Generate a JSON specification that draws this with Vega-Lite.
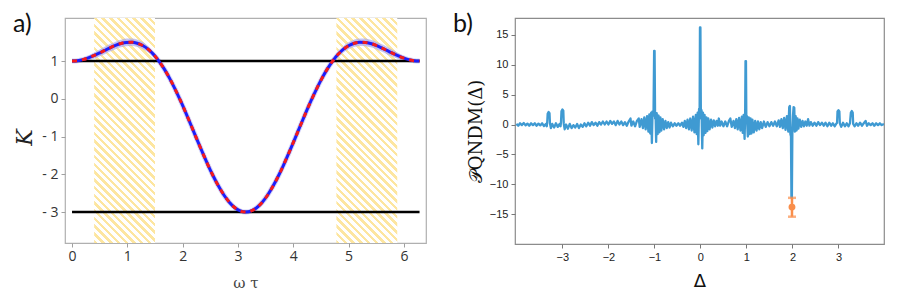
{
 "$schema": "https://vega.github.io/schema/vega-lite/v6.json",
 "background": "white",
 "padding": {"left": 12, "top": 11, "right": 5, "bottom": 0},
 "bounds": "flush",
 "spacing": 89,
 "config": {"axis": {"labelOverlap": false, "labelSeparation": 0, "labelBound": false}},
 "datasets": {
  "bands": [{"x": 0.40, "x2": 1.50}, {"x": 4.78, "x2": 5.88}],
  "levels": [{"x": 0, "x2": 6.2832, "k": 1}, {"x": 0, "x2": 6.2832, "k": -3}],
  "curve": [
   {"x":0,"k":1},{"x":0.0982,"k":1.0096},{"x":0.1963,"k":1.0377},{"x":0.2945,"k":1.0824},{"x":0.3927,"k":1.1407},{"x":0.4909,"k":1.2083},{"x":0.589,"k":1.2803},{"x":0.6872,"k":1.3509},{"x":0.7854,"k":1.4142},{"x":0.8836,"k":1.4639},{"x":0.9817,"k":1.4938},{"x":1.0799,"k":1.4984},{"x":1.1781,"k":1.4725},{"x":1.2763,"k":1.412},{"x":1.3744,"k":1.3141},{"x":1.4726,"k":1.1768},{"x":1.5708,"k":1},{"x":1.669,"k":0.7848},{"x":1.7671,"k":0.5337},{"x":1.8653,"k":0.2509},{"x":1.9635,"k":-0.0583},{"x":2.0617,"k":-0.3872},{"x":2.1598,"k":-0.7285},{"x":2.258,"k":-1.0737},{"x":2.3562,"k":-1.4142},{"x":2.4544,"k":-1.7411},{"x":2.5525,"k":-2.0456},{"x":2.6507,"k":-2.3194},{"x":2.7489,"k":-2.5549},{"x":2.8471,"k":-2.7454},{"x":2.9452,"k":-2.8855},{"x":3.0434,"k":-2.9712},{"x":3.1416,"k":-3},{"x":3.2398,"k":-2.9712},{"x":3.3379,"k":-2.8855},{"x":3.4361,"k":-2.7454},{"x":3.5343,"k":-2.5549},{"x":3.6325,"k":-2.3194},{"x":3.7306,"k":-2.0456},{"x":3.8288,"k":-1.7411},{"x":3.927,"k":-1.4142},{"x":4.0252,"k":-1.0737},{"x":4.1233,"k":-0.7285},{"x":4.2215,"k":-0.3872},{"x":4.3197,"k":-0.0583},{"x":4.4179,"k":0.2509},{"x":4.516,"k":0.5337},{"x":4.6142,"k":0.7848},{"x":4.7124,"k":1},{"x":4.8106,"k":1.1768},{"x":4.9087,"k":1.3141},{"x":5.0069,"k":1.412},{"x":5.1051,"k":1.4725},{"x":5.2033,"k":1.4984},{"x":5.3014,"k":1.4938},{"x":5.3996,"k":1.4639},{"x":5.4978,"k":1.4142},{"x":5.596,"k":1.3509},{"x":5.6941,"k":1.2803},{"x":5.7923,"k":1.2083},{"x":5.8905,"k":1.1407},{"x":5.9887,"k":1.0824},{"x":6.0868,"k":1.0377},{"x":6.185,"k":1.0096},{"x":6.2832,"k":1}
  ],
  "band": [
   {"s":"L","x":0,"lo":0.98,"hi":1.02},{"s":"L","x":0.0982,"lo":0.9796,"hi":1.0396},{"s":"L","x":0.1963,"lo":0.9977,"hi":1.0777},{"s":"L","x":0.2945,"lo":1.0224,"hi":1.1424},{"s":"L","x":0.3927,"lo":1.0607,"hi":1.2207},{"s":"L","x":0.4909,"lo":1.1183,"hi":1.2983},{"s":"L","x":0.589,"lo":1.1803,"hi":1.3803},{"s":"L","x":0.6872,"lo":1.2509,"hi":1.4509},{"s":"L","x":0.7854,"lo":1.3142,"hi":1.5142},{"s":"L","x":0.8836,"lo":1.3639,"hi":1.5639},{"s":"L","x":0.9817,"lo":1.3938,"hi":1.5938},{"s":"L","x":1.0799,"lo":1.3984,"hi":1.5984},{"s":"L","x":1.1781,"lo":1.3725,"hi":1.5725},{"s":"L","x":1.2763,"lo":1.322,"hi":1.502},{"s":"L","x":1.3744,"lo":1.2341,"hi":1.3941},{"s":"L","x":1.4726,"lo":1.1168,"hi":1.2368},{"s":"L","x":1.5708,"lo":0.96,"hi":1.04},{"s":"L","x":1.669,"lo":0.7648,"hi":0.8048},
   {"s":"R","x":4.6142,"lo":0.7648,"hi":0.8048},{"s":"R","x":4.7124,"lo":0.96,"hi":1.04},{"s":"R","x":4.8106,"lo":1.1168,"hi":1.2368},{"s":"R","x":4.9087,"lo":1.2341,"hi":1.3941},{"s":"R","x":5.0069,"lo":1.322,"hi":1.502},{"s":"R","x":5.1051,"lo":1.3725,"hi":1.5725},{"s":"R","x":5.2033,"lo":1.3984,"hi":1.5984},{"s":"R","x":5.3014,"lo":1.3938,"hi":1.5938},{"s":"R","x":5.3996,"lo":1.3639,"hi":1.5639},{"s":"R","x":5.4978,"lo":1.3142,"hi":1.5142},{"s":"R","x":5.596,"lo":1.2509,"hi":1.4509},{"s":"R","x":5.6941,"lo":1.1803,"hi":1.3803},{"s":"R","x":5.7923,"lo":1.1183,"hi":1.2983},{"s":"R","x":5.8905,"lo":1.0607,"hi":1.2207},{"s":"R","x":5.9887,"lo":1.0224,"hi":1.1424},{"s":"R","x":6.0868,"lo":0.9977,"hi":1.0777},{"s":"R","x":6.185,"lo":0.9796,"hi":1.0396},{"s":"R","x":6.2832,"lo":0.98,"hi":1.02}
  ],
  "sig": [
   {"d":-4.0,"p":0.1},{"d":-3.96,"p":-0.2},{"d":-3.92,"p":0.2},{"d":-3.88,"p":-0.1},{"d":-3.84,"p":0.25},{"d":-3.8,"p":-0.15},{"d":-3.76,"p":0.15},{"d":-3.72,"p":-0.2},{"d":-3.68,"p":0.2},{"d":-3.64,"p":-0.1},{"d":-3.6,"p":0.2},{"d":-3.56,"p":-0.2},{"d":-3.52,"p":0.15},{"d":-3.48,"p":-0.15},{"d":-3.44,"p":0.2},{"d":-3.4,"p":-0.25},{"d":-3.36,"p":0.1},{"d":-3.34,"p":-0.3},{"d":-3.33,"p":0.3},{"d":-3.32,"p":1.8},{"d":-3.3,"p":2.1},{"d":-3.28,"p":1.9},{"d":-3.27,"p":0.2},{"d":-3.25,"p":-0.6},{"d":-3.22,"p":0.1},{"d":-3.18,"p":-0.5},{"d":-3.14,"p":0.2},{"d":-3.1,"p":-0.4},{"d":-3.06,"p":0.1},{"d":-3.04,"p":-0.3},{"d":-3.03,"p":0.4},{"d":-3.02,"p":2.2},{"d":-3.0,"p":2.5},{"d":-2.98,"p":2.3},{"d":-2.97,"p":0.1},{"d":-2.95,"p":-0.8},{"d":-2.92,"p":0.0},{"d":-2.88,"p":-0.7},{"d":-2.84,"p":0.1},{"d":-2.8,"p":-0.6},{"d":-2.76,"p":-0.1},{"d":-2.72,"p":-0.5},{"d":-2.68,"p":0.1},{"d":-2.64,"p":-0.6},{"d":-2.6,"p":0.0},{"d":-2.56,"p":-0.4},{"d":-2.52,"p":0.2},{"d":-2.48,"p":-0.3},{"d":-2.44,"p":0.3},{"d":-2.4,"p":-0.2},{"d":-2.36,"p":0.4},{"d":-2.32,"p":-0.1},{"d":-2.28,"p":0.3},{"d":-2.24,"p":-0.2},{"d":-2.2,"p":0.4},{"d":-2.16,"p":0.0},{"d":-2.12,"p":0.5},{"d":-2.08,"p":0.0},{"d":-2.04,"p":0.5},{"d":-2.0,"p":0.0},{"d":-1.96,"p":0.6},{"d":-1.92,"p":0.1},{"d":-1.88,"p":0.5},{"d":-1.84,"p":-0.1},{"d":-1.8,"p":0.6},{"d":-1.76,"p":0.0},{"d":-1.72,"p":0.5},{"d":-1.68,"p":-0.1},{"d":-1.64,"p":0.4},{"d":-1.6,"p":-0.2},{"d":-1.56,"p":0.5},{"d":-1.52,"p":1.0},{"d":-1.5,"p":-0.2},{"d":-1.46,"p":0.5},{"d":-1.42,"p":-0.3},{"d":-1.38,"p":0.6},{"d":-1.34,"p":1.0},{"d":-1.32,"p":-0.4},{"d":-1.28,"p":0.9},{"d":-1.25,"p":-0.6},{"d":-1.22,"p":1.2},{"d":-1.19,"p":-0.8},{"d":-1.16,"p":1.4},{"d":-1.13,"p":-1.2},{"d":-1.11,"p":1.7},{"d":-1.09,"p":-1.5},{"d":-1.07,"p":2.0},{"d":-1.055,"p":-3.1},{"d":-1.04,"p":2.2},{"d":-1.02,"p":1.5},{"d":-1.006,"p":12.3},{"d":-0.996,"p":12.3},{"d":-0.985,"p":1.0},{"d":-0.975,"p":1.8},{"d":-0.962,"p":-2.9},{"d":-0.95,"p":1.9},{"d":-0.93,"p":-1.6},{"d":-0.91,"p":1.5},{"d":-0.89,"p":-1.3},{"d":-0.87,"p":1.2},{"d":-0.85,"p":-1.0},{"d":-0.82,"p":0.9},{"d":-0.79,"p":-0.8},{"d":-0.76,"p":0.6},{"d":-0.73,"p":-0.6},{"d":-0.7,"p":0.4},{"d":-0.67,"p":-0.5},{"d":-0.64,"p":0.3},{"d":-0.6,"p":-0.3},{"d":-0.56,"p":0.2},{"d":-0.52,"p":-0.2},{"d":-0.48,"p":0.2},{"d":-0.44,"p":-0.2},{"d":-0.4,"p":0.3},{"d":-0.37,"p":-0.4},{"d":-0.34,"p":0.6},{"d":-0.31,"p":-0.6},{"d":-0.28,"p":0.8},{"d":-0.25,"p":-0.8},{"d":-0.22,"p":1.0},{"d":-0.19,"p":-1.0},{"d":-0.16,"p":1.3},{"d":-0.13,"p":-1.3},{"d":-0.1,"p":1.6},{"d":-0.08,"p":-1.6},{"d":-0.06,"p":2.0},{"d":-0.045,"p":-3.3},{"d":-0.03,"p":2.6},{"d":-0.018,"p":1.0},{"d":-0.01,"p":16.2},{"d":0.0,"p":16.2},{"d":0.01,"p":1.2},{"d":0.024,"p":2.4},{"d":0.04,"p":-4.0},{"d":0.055,"p":2.0},{"d":0.07,"p":-1.8},{"d":0.09,"p":1.6},{"d":0.11,"p":-1.4},{"d":0.13,"p":1.2},{"d":0.15,"p":-1.1},{"d":0.17,"p":1.0},{"d":0.2,"p":-0.8},{"d":0.23,"p":0.8},{"d":0.26,"p":-0.5},{"d":0.29,"p":0.7},{"d":0.32,"p":-0.3},{"d":0.35,"p":0.6},{"d":0.38,"p":-0.2},{"d":0.4,"p":1.0},{"d":0.43,"p":-0.2},{"d":0.46,"p":0.5},{"d":0.5,"p":-0.3},{"d":0.54,"p":0.5},{"d":0.58,"p":-0.3},{"d":0.62,"p":0.6},{"d":0.65,"p":1.0},{"d":0.68,"p":-0.4},{"d":0.72,"p":0.6},{"d":0.75,"p":-0.6},{"d":0.78,"p":0.9},{"d":0.81,"p":-0.8},{"d":0.84,"p":1.1},{"d":0.87,"p":-1.0},{"d":0.9,"p":1.3},{"d":0.92,"p":-1.4},{"d":0.94,"p":1.6},{"d":0.96,"p":-2.4},{"d":0.972,"p":1.5},{"d":0.98,"p":10.6},{"d":0.99,"p":10.6},{"d":0.998,"p":1.0},{"d":1.01,"p":1.4},{"d":1.03,"p":-2.0},{"d":1.05,"p":1.2},{"d":1.07,"p":-1.6},{"d":1.09,"p":1.0},{"d":1.11,"p":-1.5},{"d":1.13,"p":0.8},{"d":1.16,"p":-1.3},{"d":1.19,"p":0.6},{"d":1.22,"p":-1.0},{"d":1.25,"p":0.5},{"d":1.28,"p":-0.8},{"d":1.31,"p":0.4},{"d":1.34,"p":-0.6},{"d":1.38,"p":0.5},{"d":1.42,"p":-0.4},{"d":1.46,"p":0.4},{"d":1.5,"p":-0.3},{"d":1.54,"p":0.4},{"d":1.58,"p":-0.2},{"d":1.62,"p":0.5},{"d":1.66,"p":-0.3},{"d":1.7,"p":0.7},{"d":1.73,"p":-0.4},{"d":1.76,"p":0.9},{"d":1.79,"p":-0.6},{"d":1.82,"p":1.1},{"d":1.85,"p":-0.9},{"d":1.88,"p":1.4},{"d":1.91,"p":-1.2},{"d":1.93,"p":2.9},{"d":1.945,"p":3.1},{"d":1.955,"p":-1.6},{"d":1.968,"p":-2.0},{"d":1.978,"p":-12.2},{"d":1.988,"p":-12.2},{"d":1.998,"p":-1.5},{"d":2.012,"p":1.5},{"d":2.025,"p":2.9},{"d":2.04,"p":2.8},{"d":2.052,"p":-1.2},{"d":2.07,"p":1.4},{"d":2.09,"p":-1.0},{"d":2.11,"p":1.0},{"d":2.13,"p":-0.7},{"d":2.16,"p":0.8},{"d":2.19,"p":-0.4},{"d":2.22,"p":0.6},{"d":2.25,"p":-0.3},{"d":2.28,"p":0.5},{"d":2.31,"p":-0.2},{"d":2.34,"p":0.9},{"d":2.37,"p":-0.2},{"d":2.4,"p":0.4},{"d":2.44,"p":-0.2},{"d":2.48,"p":0.3},{"d":2.52,"p":-0.2},{"d":2.56,"p":0.4},{"d":2.6,"p":-0.1},{"d":2.64,"p":0.3},{"d":2.68,"p":-0.2},{"d":2.72,"p":0.3},{"d":2.76,"p":-0.3},{"d":2.8,"p":0.3},{"d":2.84,"p":-0.2},{"d":2.88,"p":0.2},{"d":2.92,"p":-0.3},{"d":2.95,"p":0.1},{"d":2.97,"p":0.3},{"d":2.98,"p":2.2},{"d":3.0,"p":2.4},{"d":3.02,"p":2.2},{"d":3.03,"p":0.2},{"d":3.06,"p":-0.4},{"d":3.1,"p":0.3},{"d":3.14,"p":-0.3},{"d":3.18,"p":0.2},{"d":3.22,"p":-0.3},{"d":3.25,"p":0.2},{"d":3.27,"p":2.0},{"d":3.29,"p":2.25},{"d":3.31,"p":2.0},{"d":3.32,"p":0.1},{"d":3.35,"p":-0.3},{"d":3.39,"p":0.2},{"d":3.43,"p":-0.2},{"d":3.47,"p":0.3},{"d":3.51,"p":-0.2},{"d":3.55,"p":0.2},{"d":3.59,"p":0.6},{"d":3.62,"p":-0.2},{"d":3.66,"p":0.2},{"d":3.7,"p":-0.1},{"d":3.74,"p":0.2},{"d":3.78,"p":-0.2},{"d":3.82,"p":0.2},{"d":3.86,"p":-0.1},{"d":3.9,"p":0.2},{"d":3.94,"p":-0.1},{"d":3.99,"p":0.1}
  ],
  "meas": [{"d": 1.99, "m": -13.8, "lo": -15.4, "hi": -12.25}]
 },
 "hconcat": [
  {
   "width": 361,
   "height": 225,
   "view": {"stroke": "#b0b0b0", "strokeWidth": 1.2},
   "title": {"text": "a)", "anchor": "start", "frame": "group", "orient": "top", "fontSize": 25, "font": "Lato", "fontWeight": "normal", "color": "#111", "offset": 0, "baseline": "alphabetic", "dx": -52, "dy": 39},
   "layer": [
    {
     "data": {"name": "bands"},
     "mark": {"type": "rect", "fill": {"gradient": "linear", "x1": 0, "y1": 1, "x2": 0.3201, "y2": -0.1838, "stops": [
      {"offset":0,"color":"#fde6a0"},{"offset":0.0122,"color":"#fde6a0"},{"offset":0.0122,"color":"#ffffff"},{"offset":0.027,"color":"#ffffff"},
      {"offset":0.027,"color":"#fde6a0"},{"offset":0.0392,"color":"#fde6a0"},{"offset":0.0392,"color":"#ffffff"},{"offset":0.0541,"color":"#ffffff"},
      {"offset":0.0541,"color":"#fde6a0"},{"offset":0.0662,"color":"#fde6a0"},{"offset":0.0662,"color":"#ffffff"},{"offset":0.0811,"color":"#ffffff"},
      {"offset":0.0811,"color":"#fde6a0"},{"offset":0.0932,"color":"#fde6a0"},{"offset":0.0932,"color":"#ffffff"},{"offset":0.1081,"color":"#ffffff"},
      {"offset":0.1081,"color":"#fde6a0"},{"offset":0.1203,"color":"#fde6a0"},{"offset":0.1203,"color":"#ffffff"},{"offset":0.1351,"color":"#ffffff"},
      {"offset":0.1351,"color":"#fde6a0"},{"offset":0.1473,"color":"#fde6a0"},{"offset":0.1473,"color":"#ffffff"},{"offset":0.1622,"color":"#ffffff"},
      {"offset":0.1622,"color":"#fde6a0"},{"offset":0.1743,"color":"#fde6a0"},{"offset":0.1743,"color":"#ffffff"},{"offset":0.1892,"color":"#ffffff"},
      {"offset":0.1892,"color":"#fde6a0"},{"offset":0.2014,"color":"#fde6a0"},{"offset":0.2014,"color":"#ffffff"},{"offset":0.2162,"color":"#ffffff"},
      {"offset":0.2162,"color":"#fde6a0"},{"offset":0.2284,"color":"#fde6a0"},{"offset":0.2284,"color":"#ffffff"},{"offset":0.2432,"color":"#ffffff"},
      {"offset":0.2432,"color":"#fde6a0"},{"offset":0.2554,"color":"#fde6a0"},{"offset":0.2554,"color":"#ffffff"},{"offset":0.2703,"color":"#ffffff"},
      {"offset":0.2703,"color":"#fde6a0"},{"offset":0.2824,"color":"#fde6a0"},{"offset":0.2824,"color":"#ffffff"},{"offset":0.2973,"color":"#ffffff"},
      {"offset":0.2973,"color":"#fde6a0"},{"offset":0.3095,"color":"#fde6a0"},{"offset":0.3095,"color":"#ffffff"},{"offset":0.3243,"color":"#ffffff"},
      {"offset":0.3243,"color":"#fde6a0"},{"offset":0.3365,"color":"#fde6a0"},{"offset":0.3365,"color":"#ffffff"},{"offset":0.3514,"color":"#ffffff"},
      {"offset":0.3514,"color":"#fde6a0"},{"offset":0.3635,"color":"#fde6a0"},{"offset":0.3635,"color":"#ffffff"},{"offset":0.3784,"color":"#ffffff"},
      {"offset":0.3784,"color":"#fde6a0"},{"offset":0.3905,"color":"#fde6a0"},{"offset":0.3905,"color":"#ffffff"},{"offset":0.4054,"color":"#ffffff"},
      {"offset":0.4054,"color":"#fde6a0"},{"offset":0.4176,"color":"#fde6a0"},{"offset":0.4176,"color":"#ffffff"},{"offset":0.4324,"color":"#ffffff"},
      {"offset":0.4324,"color":"#fde6a0"},{"offset":0.4446,"color":"#fde6a0"},{"offset":0.4446,"color":"#ffffff"},{"offset":0.4595,"color":"#ffffff"},
      {"offset":0.4595,"color":"#fde6a0"},{"offset":0.4716,"color":"#fde6a0"},{"offset":0.4716,"color":"#ffffff"},{"offset":0.4865,"color":"#ffffff"},
      {"offset":0.4865,"color":"#fde6a0"},{"offset":0.4986,"color":"#fde6a0"},{"offset":0.4986,"color":"#ffffff"},{"offset":0.5135,"color":"#ffffff"},
      {"offset":0.5135,"color":"#fde6a0"},{"offset":0.5257,"color":"#fde6a0"},{"offset":0.5257,"color":"#ffffff"},{"offset":0.5405,"color":"#ffffff"},
      {"offset":0.5405,"color":"#fde6a0"},{"offset":0.5527,"color":"#fde6a0"},{"offset":0.5527,"color":"#ffffff"},{"offset":0.5676,"color":"#ffffff"},
      {"offset":0.5676,"color":"#fde6a0"},{"offset":0.5797,"color":"#fde6a0"},{"offset":0.5797,"color":"#ffffff"},{"offset":0.5946,"color":"#ffffff"},
      {"offset":0.5946,"color":"#fde6a0"},{"offset":0.6068,"color":"#fde6a0"},{"offset":0.6068,"color":"#ffffff"},{"offset":0.6216,"color":"#ffffff"},
      {"offset":0.6216,"color":"#fde6a0"},{"offset":0.6338,"color":"#fde6a0"},{"offset":0.6338,"color":"#ffffff"},{"offset":0.6486,"color":"#ffffff"},
      {"offset":0.6486,"color":"#fde6a0"},{"offset":0.6608,"color":"#fde6a0"},{"offset":0.6608,"color":"#ffffff"},{"offset":0.6757,"color":"#ffffff"},
      {"offset":0.6757,"color":"#fde6a0"},{"offset":0.6878,"color":"#fde6a0"},{"offset":0.6878,"color":"#ffffff"},{"offset":0.7027,"color":"#ffffff"},
      {"offset":0.7027,"color":"#fde6a0"},{"offset":0.7149,"color":"#fde6a0"},{"offset":0.7149,"color":"#ffffff"},{"offset":0.7297,"color":"#ffffff"},
      {"offset":0.7297,"color":"#fde6a0"},{"offset":0.7419,"color":"#fde6a0"},{"offset":0.7419,"color":"#ffffff"},{"offset":0.7568,"color":"#ffffff"},
      {"offset":0.7568,"color":"#fde6a0"},{"offset":0.7689,"color":"#fde6a0"},{"offset":0.7689,"color":"#ffffff"},{"offset":0.7838,"color":"#ffffff"},
      {"offset":0.7838,"color":"#fde6a0"},{"offset":0.7959,"color":"#fde6a0"},{"offset":0.7959,"color":"#ffffff"},{"offset":0.8108,"color":"#ffffff"},
      {"offset":0.8108,"color":"#fde6a0"},{"offset":0.823,"color":"#fde6a0"},{"offset":0.823,"color":"#ffffff"},{"offset":0.8378,"color":"#ffffff"},
      {"offset":0.8378,"color":"#fde6a0"},{"offset":0.85,"color":"#fde6a0"},{"offset":0.85,"color":"#ffffff"},{"offset":0.8649,"color":"#ffffff"},
      {"offset":0.8649,"color":"#fde6a0"},{"offset":0.877,"color":"#fde6a0"},{"offset":0.877,"color":"#ffffff"},{"offset":0.8919,"color":"#ffffff"},
      {"offset":0.8919,"color":"#fde6a0"},{"offset":0.9041,"color":"#fde6a0"},{"offset":0.9041,"color":"#ffffff"},{"offset":0.9189,"color":"#ffffff"},
      {"offset":0.9189,"color":"#fde6a0"},{"offset":0.9311,"color":"#fde6a0"},{"offset":0.9311,"color":"#ffffff"},{"offset":0.9459,"color":"#ffffff"},
      {"offset":0.9459,"color":"#fde6a0"},{"offset":0.9581,"color":"#fde6a0"},{"offset":0.9581,"color":"#ffffff"},{"offset":0.973,"color":"#ffffff"},
      {"offset":0.973,"color":"#fde6a0"},{"offset":0.9851,"color":"#fde6a0"},{"offset":0.9851,"color":"#ffffff"},{"offset":1,"color":"#ffffff"}
     ]}},
     "encoding": {
      "x": {"field": "x", "type": "quantitative", "title": "ω τ",
            "scale": {"domain": [-0.127, 6.4], "nice": false, "zero": false},
            "axis": {"values": [0, 1, 2, 3, 4, 5, 6], "tickCount": 20, "format": "d", "labelOverlap": false, "grid": false, "domain": false, "tickColor": "#a0a0a0", "tickSize": 4, "labelFont": "Open Sans", "labelFontSize": 14, "labelColor": "#333", "labelPadding": 2, "titleFont": "DejaVu Serif", "titleFontSize": 15, "titleFontWeight": "normal", "titleColor": "#444", "titlePadding": 12}},
      "x2": {"field": "x2"}
     }
    },
    {
     "data": {"name": "band"},
     "mark": {"type": "area", "color": "#a0a0f0", "opacity": 0.6, "interpolate": "monotone"},
     "encoding": {
      "x": {"field": "x", "type": "quantitative", "title": "ω τ"},
      "y": {"field": "lo", "type": "quantitative", "title": "K",
            "scale": {"domain": [-3.82, 2.14], "nice": false, "zero": false},
            "axis": {"values": [-3, -2, -1, 0, 1], "tickCount": 20, "format": "d", "labelOverlap": false, "labelExpr": "datum.value < 0 ? '- ' + abs(datum.value) : datum.label", "grid": false, "domain": false, "tickColor": "#a0a0a0", "tickSize": 4, "labelFont": "Open Sans", "labelFontSize": 14, "labelColor": "#333", "labelPadding": 3, "titleFont": "DejaVu Serif", "titleFontStyle": "italic", "titleFontSize": 22, "titleFontWeight": "normal", "titleColor": "#222", "titlePadding": 5, "titleY": 119}},
      "y2": {"field": "hi"},
      "detail": {"field": "s"}
     }
    },
    {
     "data": {"name": "curve"},
     "mark": {"type": "line", "color": "#b9b9f4", "strokeWidth": 5, "opacity": 0.6, "interpolate": "monotone"},
     "encoding": {
      "x": {"field": "x", "type": "quantitative", "title": "ω τ"},
      "y": {"field": "k", "type": "quantitative", "title": "K"}
     }
    },
    {
     "data": {"name": "levels"},
     "mark": {"type": "rule", "color": "#000000", "strokeWidth": 2.6},
     "encoding": {
      "x": {"field": "x", "type": "quantitative", "title": "ω τ"},
      "x2": {"field": "x2"},
      "y": {"field": "k", "type": "quantitative", "title": "K"}
     }
    },
    {
     "data": {"name": "curve"},
     "mark": {"type": "line", "color": "#1e1efa", "strokeWidth": 3, "interpolate": "monotone"},
     "encoding": {
      "x": {"field": "x", "type": "quantitative", "title": "ω τ"},
      "y": {"field": "k", "type": "quantitative", "title": "K"}
     }
    },
    {
     "data": {"name": "curve"},
     "mark": {"type": "line", "color": "#f51b1b", "strokeWidth": 3, "strokeDash": [5, 5], "interpolate": "monotone"},
     "encoding": {
      "x": {"field": "x", "type": "quantitative", "title": "ω τ"},
      "y": {"field": "k", "type": "quantitative", "title": "K"}
     }
    }
   ]
  },
  {
   "width": 369,
   "height": 226,
   "view": {"stroke": "#8c8c8c", "strokeWidth": 1.2},
   "title": {"text": "b)", "anchor": "start", "frame": "group", "orient": "top", "fontSize": 25, "font": "Lato", "fontWeight": "normal", "color": "#111", "offset": 0, "baseline": "alphabetic", "dx": -62, "dy": 39},
   "encoding": {
    "x": {"field": "d", "type": "quantitative", "title": "Δ",
          "scale": {"domain": [-4.03, 3.99], "nice": false, "zero": false},
          "axis": {"values": [-3, -2, -1, 0, 1, 2, 3], "tickCount": 20, "format": "d", "labelOverlap": false, "grid": false, "domain": false, "tickColor": "#777", "tickSize": 4, "labelFont": "Liberation Sans", "labelFontSize": 11, "labelColor": "#222", "labelPadding": 3, "titleFont": "DejaVu Sans", "titleFontSize": 18, "titleFontWeight": "normal", "titleColor": "#111", "titlePadding": 10}}
   },
   "layer": [
    {
     "data": {"name": "sig"},
     "mark": {"type": "line", "color": "#3f9ad2", "strokeWidth": 2.3, "strokeJoin": "round", "clip": true},
     "encoding": {
      "y": {"field": "p", "type": "quantitative", "title": "𝒫QNDM(Δ)",
            "scale": {"domain": [-19.96, 17.79], "nice": false, "zero": false},
            "axis": {"values": [-15, -10, -5, 0, 5, 10, 15], "tickCount": 20, "format": "d", "labelOverlap": false, "grid": false, "domain": false, "tickColor": "#777", "tickSize": 4, "labelFont": "Liberation Sans", "labelFontSize": 11, "labelColor": "#222", "labelPadding": 3, "titleFont": "DejaVu Serif", "titleFontSize": 18, "titleFontWeight": "normal", "titleColor": "#111", "titlePadding": 4}}
     }
    },
    {
     "data": {"name": "meas"},
     "mark": {"type": "rule", "color": "#f98e4b", "strokeWidth": 2.5},
     "encoding": {
      "y": {"field": "lo", "type": "quantitative", "title": "𝒫QNDM(Δ)"},
      "y2": {"field": "hi"}
     }
    },
    {
     "data": {"name": "meas"},
     "mark": {"type": "tick", "color": "#f98e4b", "orient": "horizontal", "size": 8, "thickness": 2.5},
     "encoding": {
      "y": {"field": "lo", "type": "quantitative", "title": "𝒫QNDM(Δ)"}
     }
    },
    {
     "data": {"name": "meas"},
     "mark": {"type": "tick", "color": "#f98e4b", "orient": "horizontal", "size": 8, "thickness": 2.5},
     "encoding": {
      "y": {"field": "hi", "type": "quantitative", "title": "𝒫QNDM(Δ)"}
     }
    },
    {
     "data": {"name": "meas"},
     "mark": {"type": "circle", "color": "#f98e4b", "opacity": 1, "size": 48},
     "encoding": {
      "y": {"field": "m", "type": "quantitative", "title": "𝒫QNDM(Δ)"}
     }
    }
   ]
  }
 ]
}
